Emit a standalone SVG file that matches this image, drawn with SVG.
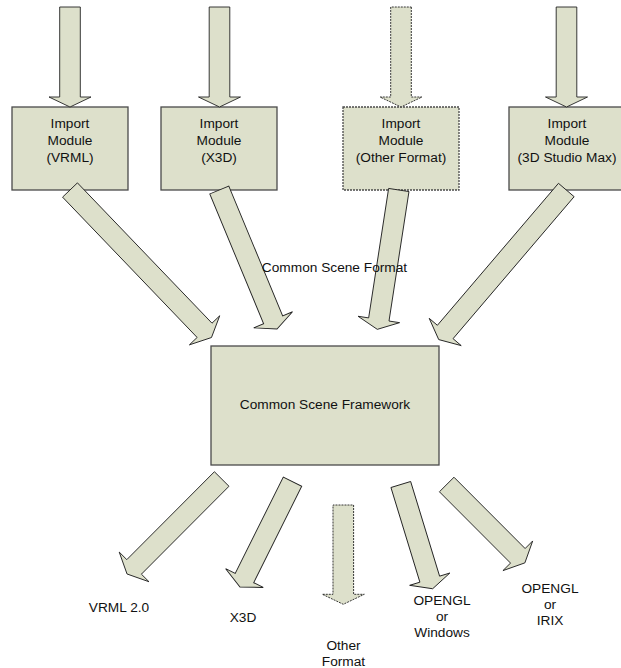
<svg xmlns="http://www.w3.org/2000/svg" width="621" height="668" viewBox="0 0 621 668">
<style>
  .box { fill: #dde0cb; stroke: #4a4a4a; stroke-width: 1.3; }
  .dash { stroke-dasharray: 2 1; }
  .arr { fill: #dde0cb; stroke: #222; stroke-width: 0.9; stroke-linejoin: miter; }
  text { font-family: "Liberation Sans", Arial, sans-serif; font-size: 13.7px; fill: #111; text-anchor: middle; }
</style>
<rect width="621" height="668" fill="#ffffff"/>

<g id="import-vrml">
  <rect class="box" x="12" y="107" width="116" height="83"/>
  <text x="70" y="128">Import</text>
  <text x="70" y="144.5">Module</text>
  <text x="70" y="161.5">(VRML)</text>
</g>
<g id="import-x3d">
  <rect class="box" x="161" y="107" width="116" height="83"/>
  <text x="219" y="128">Import</text>
  <text x="219" y="144.5">Module</text>
  <text x="219" y="161.5">(X3D)</text>
</g>
<g id="import-other">
  <rect class="box dash" x="343" y="107" width="116" height="83"/>
  <text x="401" y="128">Import</text>
  <text x="401" y="144.5">Module</text>
  <text x="401" y="161.5">(Other Format)</text>
</g>
<g id="import-3ds">
  <rect class="box" x="509" y="107" width="116" height="83"/>
  <text x="567" y="128">Import</text>
  <text x="567" y="144.5">Module</text>
  <text x="567" y="161.5">(3D Studio Max)</text>
</g>
<g id="framework">
  <rect class="box" x="211" y="346" width="228" height="119"/>
  <text x="325" y="408.5">Common Scene Framework</text>
</g>

<g id="connectors">
  <!-- inputs -->
  <polygon class="arr" transform="translate(70,7) rotate(90)" points="0,-10.3 90,-10.3 90,-21 100,0 90,21 90,10.3 0,10.3"/>
  <polygon class="arr" transform="translate(219.5,7) rotate(90)" points="0,-10.3 90,-10.3 90,-21 100,0 90,21 90,10.3 0,10.3"/>
  <polygon class="arr dash" transform="translate(401,7) rotate(90)" points="0,-10.3 90,-10.3 90,-21 100,0 90,21 90,10.3 0,10.3"/>
  <polygon class="arr" transform="translate(566.5,7) rotate(90)" points="0,-10.3 90,-10.3 90,-21 100,0 90,21 90,10.3 0,10.3"/>
  <!-- modules to framework -->
  <polygon class="arr" transform="translate(70,190) rotate(46.2)" points="0,-10.3 194.4,-10.3 194.4,-21 204.4,0 194.4,21 194.4,10.3 0,10.3"/>
  <polygon class="arr" transform="translate(219.3,190) rotate(67.46)" points="0,-10.3 140.5,-10.3 140.5,-21 150.5,0 140.5,21 140.5,10.3 0,10.3"/>
  <polygon class="arr" transform="translate(398.8,190) rotate(98.77)" points="0,-10.3 131,-10.3 131,-21 141,0 131,21 131,10.3 0,10.3"/>
  <polygon class="arr" transform="translate(566.3,190) rotate(130.46)" points="0,-10.3 186.6,-10.3 186.6,-21 196.6,0 186.6,21 186.6,10.3 0,10.3"/>
  <!-- framework to outputs -->
  <polygon class="arr" transform="translate(221.7,479) rotate(134.9)" points="0,-10.3 124.1,-10.3 124.1,-21 134.1,0 124.1,21 124.1,10.3 0,10.3"/>
  <polygon class="arr" transform="translate(292.5,481.7) rotate(116.5)" points="0,-10.3 107.7,-10.3 107.7,-21 117.7,0 107.7,21 107.7,10.3 0,10.3"/>
  <polygon class="arr dash" transform="translate(343.3,505) rotate(90)" points="0,-10.3 89.3,-10.3 89.3,-21 99.3,0 89.3,21 89.3,10.3 0,10.3"/>
  <polygon class="arr" transform="translate(400.8,484.5) rotate(73)" points="0,-10.3 99,-10.3 99,-21 109,0 99,21 99,10.3 0,10.3"/>
  <polygon class="arr" transform="translate(446.7,484.5) rotate(45.07)" points="0,-10.3 100.7,-10.3 100.7,-21 110.7,0 100.7,21 100.7,10.3 0,10.3"/>
</g>

<g id="label-common-scene-format">
  <text x="334.5" y="271.5">Common Scene Format</text>
</g>
<g id="out-vrml">
  <text x="119" y="612">VRML 2.0</text>
</g>
<g id="out-x3d">
  <text x="243" y="622">X3D</text>
</g>
<g id="out-other">
  <text x="343.5" y="650">Other</text>
  <text x="343.5" y="666">Format</text>
</g>
<g id="out-opengl-windows">
  <text x="442" y="605">OPENGL</text>
  <text x="442" y="621">or</text>
  <text x="442" y="637">Windows</text>
</g>
<g id="out-opengl-irix">
  <text x="550" y="592.5">OPENGL</text>
  <text x="550" y="608.5">or</text>
  <text x="550" y="625">IRIX</text>
</g>
</svg>
